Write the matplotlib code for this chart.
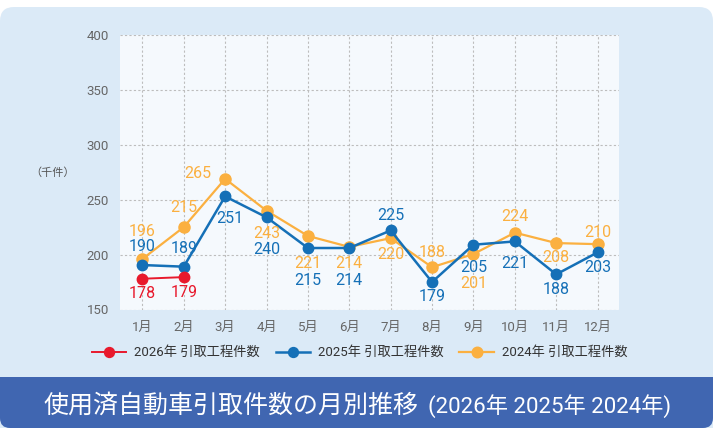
import numpy as np
import matplotlib
matplotlib.use("Agg")
from matplotlib import pyplot as plt
from matplotlib.patches import FancyBboxPatch, Rectangle

plt.rcParams['font.family'] = ['Roboto', 'Noto Sans CJK JP', 'DejaVu Sans']

months = ['1月', '2月', '3月', '4月', '5月', '6月', '7月', '8月', '9月', '10月', '11月', '12月']

y2026 = [178, 179.5]
y2025 = [190.5, 189, 253, 234, 206, 206, 222, 175, 209, 212, 182, 202]
y2024 = [196, 225, 269, 240, 217, 207, 215, 188.5, 200.5, 220, 210.5, 209.5]

lab2026 = ['178', '179']
lab2025 = ['190', '189', '251', '240', '215', '214', '225', '179', '205', '221', '188', '203']
lab2024 = ['196', '215', '265', '243', '221', '214', '220', '188', '201', '224', '208', '210']

series_names = ['2026年 引取工程件数', '2025年 引取工程件数', '2024年 引取工程件数']

# label offsets in pixels (dx, dy downward)
off2026 = [(0, 15), (0, 15)]
off2025 = [(0, -19), (0, -18), (5, 22), (0, 32), (0, 32), (0, 32),
           (0, -15), (0, 14), (0, 23), (0, 22), (0, 15), (0, 15)]
off2024 = [(0, -27), (0, -20), (-27, -5), (0, 23), (0, 28), (0, 17),
           (0, 16), (0, -15), (0, 29), (0, -16), (0, 14), (0, -12)]

RED = '#E8192C'
BLUE = '#1570B7'
ORANGE = '#FBB040'
W, H = 713, 428

fig = plt.figure(figsize=(W / 100, H / 100), dpi=100)
fig.patch.set_facecolor('white')

# background panels, in pixel units
bg = fig.add_axes([0, 0, 1, 1], zorder=0)
bg.set_xlim(0, W)
bg.set_ylim(H, 0)
bg.axis('off')
bg.add_patch(FancyBboxPatch((0, 7), W, H - 7 + 20, boxstyle='round,pad=0,rounding_size=14',
                            fc='#DBEAF7', ec='none'))
bg.add_patch(FancyBboxPatch((0, 377), W, H - 377, boxstyle='round,pad=0,rounding_size=10',
                            fc='#4066B1', ec='none'))
bg.add_patch(Rectangle((0, 377), W, 20, fc='#4066B1', ec='none'))
bg.text(43, 406, '使用済自動車引取件数の月別推移', color='white', fontsize=18,
        va='center', ha='left', family=['Noto Sans CJK JP'])
bg.text(428, 406, '(2026年 2025年 2024年)', color='white', fontsize=16,
        va='center', ha='left')
bg.text(53, 173, '（千件）', color='#555555', fontsize=8, va='center', ha='center',
        family=['Noto Sans CJK JP'])

ax = fig.add_axes([120 / W, 1 - 309.5 / H, 498.7 / W, 274.5 / H], zorder=1)
ax.set_facecolor('#F5F9FD')
x = np.arange(len(months))

l24, = ax.plot(x, y2024, color=ORANGE, lw=1.6, marker='o', ms=8, zorder=3, label=series_names[2])
l25, = ax.plot(x, y2025, color=BLUE, lw=1.8, marker='o', ms=7.5, zorder=4, label=series_names[1])
l26, = ax.plot(x[:len(y2026)], y2026, color=RED, lw=1.4, marker='o', ms=7.5, zorder=5, label=series_names[0])

for vals, labs, offs, c in [(y2024, lab2024, off2024, ORANGE),
                            (y2025, lab2025, off2025, BLUE),
                            (y2026, lab2026, off2026, RED)]:
    for i, (v, t, o) in enumerate(zip(vals, labs, offs)):
        ax.annotate(t, (x[i], v), xytext=(o[0], -o[1]), textcoords='offset pixels',
                    ha='center', va='center', color=c, fontsize=11.5, zorder=6)

ax.set_xlim(-0.54, 11.51)
ax.set_ylim(150, 400)
ax.set_xticks(x)
ax.set_xticklabels(months)
ax.set_yticks([150, 200, 250, 300, 350, 400])
ax.tick_params(length=0, labelsize=9.5, labelcolor='#666666')
ax.tick_params(axis='y', pad=8)
ax.tick_params(axis='x', pad=8)
for s in ax.spines.values():
    s.set_visible(False)
ax.grid(True, color='#BDBDBD', lw=0.8, ls=(0, (2, 2)))
ax.set_axisbelow(True)

fig.legend(handles=[l26, l25, l24], labels=series_names, loc='center', ncol=3,
           bbox_to_anchor=(359.5 / W, 1 - 352.7 / H), frameon=False, fontsize=9.5,
           handlelength=2.6, handletextpad=0.6, columnspacing=1.2, labelcolor='#333333',
           markerscale=0.95)

fig.savefig('out.png', dpi=100, facecolor=fig.get_facecolor())
